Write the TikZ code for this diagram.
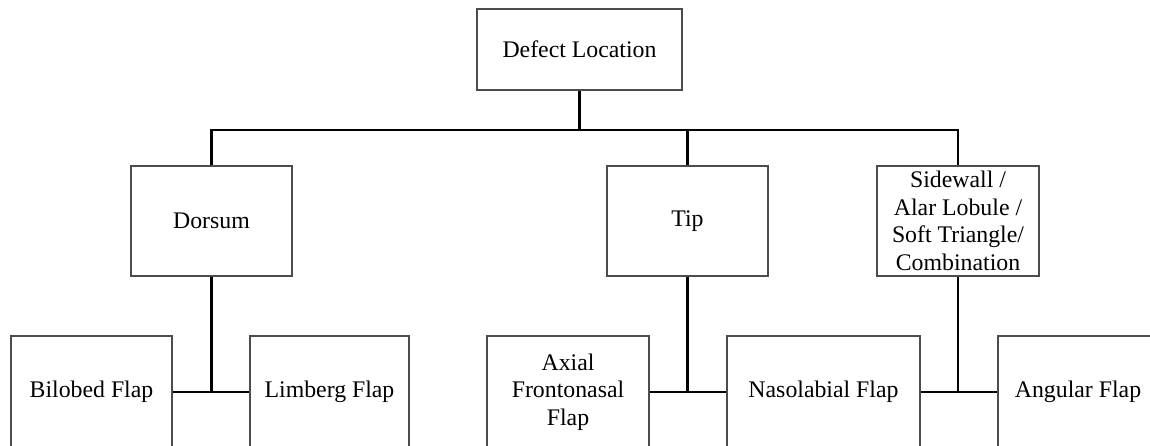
\documentclass[tikz,border=0pt]{standalone}
\usepackage{fontspec}
\setmainfont{Liberation Serif}
\begin{document}
\begin{tikzpicture}[x=1pt,y=-1pt,
  box/.style={draw=black!70, line width=1.5pt, fill=white, align=center,
    inner sep=0pt, font=\fontsize{23.8}{27.5}\selectfont},
  link/.style={draw=black, line width=2.6pt}]
\useasboundingbox (0,0) rectangle (1150,445);
\clip (0,0) rectangle (1150,445);
\fill[white] (0,0) rectangle (1150,445);

% top level
\node[box, minimum width=205pt, minimum height=81pt] (root) at (579.5,49.5) {Defect Location};

% defect sites
\node[box, minimum width=161pt, minimum height=110pt] (dorsum) at (211.5,221) {Dorsum};
\node[box, minimum width=161pt, minimum height=110pt] (tip) at (687.5,221) {Tip};
\node[box, minimum width=162pt, minimum height=110pt] (side) at (958,221)
  {Sidewall /\\Alar Lobule /\\Soft Triangle/\\Combination};

% flap options
\node[box, minimum width=161pt, minimum height=112pt] (bilobed) at (91.5,392) {Bilobed Flap};
\node[box, minimum width=159pt, minimum height=112pt] (limberg) at (329.5,392) {Limberg Flap};
\node[box, minimum width=162pt, minimum height=112pt] (axial) at (568,392) {Axial\\Frontonasal\\Flap};
\node[box, minimum width=193pt, minimum height=112pt] (naso) at (823.5,392) {Nasolabial Flap};
\node[box, minimum width=160pt, minimum height=112pt] (angular) at (1078,392) {Angular Flap};

% bus under the root
\coordinate (bus) at (579.5,130);
\draw[link] (root.south) -- (root.south |- bus);
\draw[link] (dorsum.north) -- (dorsum.north |- bus) -- (side.north |- bus) -- (side.north);
\draw[link] (tip.north) -- (tip.north |- bus);

% site to flaps
\draw[link] (dorsum.south) -- (dorsum.south |- bilobed.east);
\draw[link] (bilobed.east) -- (limberg.west);
\draw[link] (tip.south) -- (tip.south |- axial.east);
\draw[link] (axial.east) -- (naso.west);
\draw[link] (side.south) -- (side.south |- naso.east);
\draw[link] (naso.east) -- (angular.west);
\end{tikzpicture}
\end{document}
